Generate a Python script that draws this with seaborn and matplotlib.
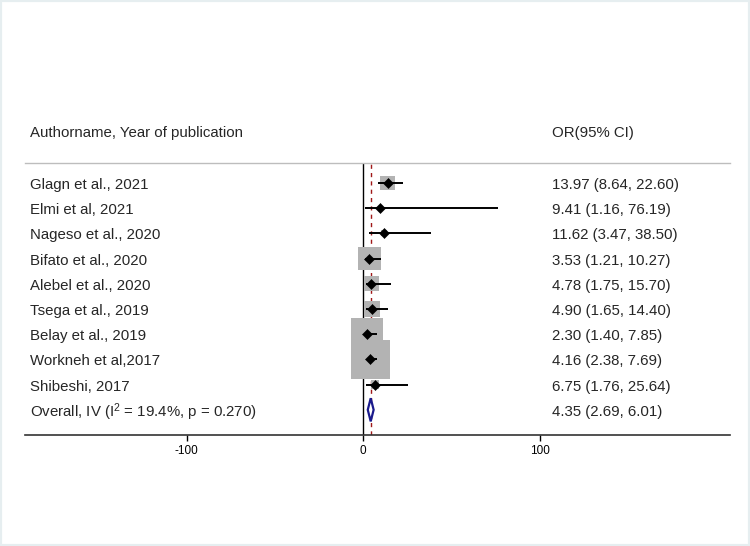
import matplotlib
matplotlib.use("Agg")
import matplotlib.pyplot as plt
import seaborn as sns
import pandas as pd
from matplotlib.patches import Rectangle

# study data
studies = ["Glagn et al., 2021", "Elmi et al, 2021", "Nageso et al., 2020",
           "Bifato et al., 2020", "Alebel et al., 2020", "Tsega et al., 2019",
           "Belay et al., 2019", "Workneh et al,2017", "Shibeshi, 2017"]
odds = [13.97, 9.41, 11.62, 3.53, 4.78, 4.90, 2.30, 4.16, 6.75]
lower = [8.64, 1.16, 3.47, 1.21, 1.75, 1.65, 1.40, 2.38, 1.76]
upper = [22.60, 76.19, 38.50, 10.27, 15.70, 14.40, 7.85, 7.69, 25.64]
# approximate weights (%) judged from the box sizes
weights = [5.6, 0.2, 0.9, 13.4, 5.6, 6.8, 26.4, 38.9, 1.9]

overall_label = r"Overall, IV (I$^{2}$ = 19.4%, p = 0.270)"
overall_or, overall_lo, overall_hi = 4.35, 2.69, 6.01
x_ticks = [-100, 0, 100]

sns.set_theme(style="white")
plt.rcParams["font.family"] = ["Liberation Sans", "DejaVu Sans"]
plt.rcParams["mathtext.fontset"] = "custom"
plt.rcParams["mathtext.rm"] = "Liberation Sans"
plt.rcParams["mathtext.it"] = "Liberation Sans:italic"

df = pd.DataFrame({"study": studies, "or": odds, "lo": lower, "hi": upper,
                   "w": weights})
df["row"] = range(len(df))
overall_row = len(df)

fig = plt.figure(figsize=(7.5, 5.46), dpi=100)
ax = fig.add_axes([25 / 750, 111 / 546, 705 / 750, 272 / 546])

# weight boxes
sns.scatterplot(data=df, x="or", y="row", size="w", sizes=(0, 790),
                size_norm=(0, 38.9), marker="s", color="#b3b3b3",
                edgecolor="none", legend=False, ax=ax, zorder=2)

# confidence intervals and point estimates
ax.hlines(df["row"], df["lo"], df["hi"], color="black", lw=1.4, zorder=3)
sns.scatterplot(data=df, x="or", y="row", marker="D", s=26, color="black",
                edgecolor="black", legend=False, ax=ax, zorder=4)

# null line and overall line
ax.axvline(0, color="black", lw=1.0, zorder=1)
ax.axvline(overall_or, color="#a01818", lw=1.0, ls=(0, (3, 3)), zorder=1)

# overall diamond
h = 0.46
ax.fill([overall_lo, overall_or, overall_hi, overall_or],
        [overall_row, overall_row - h, overall_row, overall_row + h],
        facecolor="white", edgecolor="#1a1a8c", lw=1.6, zorder=5)

ax.set_xlim(-191.5, 207.9)
ax.set_ylim(10.0, -0.794)
ax.set_xticks(x_ticks)
ax.set_xticklabels([str(t) for t in x_ticks])
ax.set_yticks([])
ax.set_xlabel("")
ax.set_ylabel("")
ax.tick_params(axis="x", direction="out", length=4, width=1, labelsize=8.5,
               colors="black", pad=3, bottom=True)
for side in ["left", "right"]:
    ax.spines[side].set_visible(False)
ax.spines["top"].set_color("#bdbdbd")
ax.spines["top"].set_linewidth(1.0)
ax.spines["bottom"].set_color("#333333")
ax.spines["bottom"].set_linewidth(1.2)

# text columns
tr = ax.get_yaxis_transform(which="grid")
col1 = 0.007
col2 = 0.7475
fs = 10.8
dy = 0.08  # nudge text onto the row centre
ax.text(col1, -2.06 + dy, "Authorname, Year of publication", fontsize=fs,
        va="center", transform=tr, clip_on=False)
ax.text(col2, -2.06 + dy, "OR(95% CI)", fontsize=fs, va="center",
        transform=tr, clip_on=False)

labels = studies + [overall_label]
values = [f"{o:.2f} ({l:.2f}, {u:.2f})" for o, l, u in zip(odds, lower, upper)]
values.append(f"{overall_or:.2f} ({overall_lo:.2f}, {overall_hi:.2f})")
for i, (lab, val) in enumerate(zip(labels, values)):
    ax.text(col1, i + dy, lab, fontsize=fs, va="center", transform=tr)
    ax.text(col2, i + dy, val, fontsize=fs, va="center", transform=tr)

# light frame around the figure
fig.patches.append(Rectangle((0, 0), 1, 1, transform=fig.transFigure,
                             fill=False, edgecolor="#e6eef0", lw=3))

fig.savefig("out.png", dpi=100)
